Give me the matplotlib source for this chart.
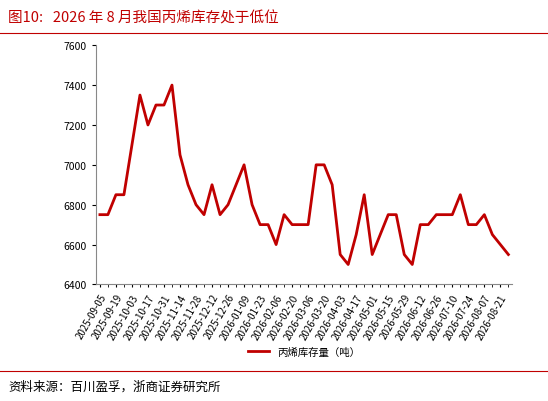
import matplotlib
matplotlib.use("Agg")
import matplotlib.pyplot as plt
import pandas as pd

plt.rcParams['font.family'] = ['Noto Sans CJK SC', 'DejaVu Sans']

dates = pd.date_range("2025-09-05", periods=52, freq="7D").strftime("%Y-%m-%d").tolist()
values = [6750,6750,6850,6850,7100,7350,7200,7300,7300,7400,7050,6900,6800,6750,6900,6750,
          6800,6900,7000,6800,6700,6700,6600,6750,6700,6700,6700,7000,7000,6900,6550,6500,
          6650,6850,6550,6650,6750,6750,6550,6500,6700,6700,6750,6750,6750,6850,6700,6700,
          6750,6650,6600,6550]

fig = plt.figure(figsize=(5.48, 4.02), dpi=100)
ax = fig.add_axes([0.175, 0.29, 0.76, 0.595])
x = list(range(len(values)))
ax.plot(x, values, color='#C00000', lw=2, label='丙烯库存量（吨）')
ax.set_ylim(6400, 7600)
ax.set_yticks(range(6400, 7601, 200))
ax.set_xlim(-0.5, len(values) - 0.5)
ax.set_xticks(x, minor=True)
ax.set_xticks(x[::2])
ax.set_xticklabels(dates[::2], rotation=60, ha='right', rotation_mode='anchor', fontsize=7)
ax.tick_params(axis='y', labelsize=7.5, length=3, direction='out')
ax.tick_params(axis='x', which='both', length=2)
for s in ['top', 'right']:
    ax.spines[s].set_visible(False)
for s in ['left', 'bottom']:
    ax.spines[s].set_color('#888888')
leg = ax.legend(loc='center', bbox_to_anchor=(0.5, -0.28), frameon=False, fontsize=7.5)

fig.text(0.015, 0.955, '图10:   2026 年 8 月我国丙烯库存处于低位', fontsize=10.5, color='#C00000', va='center')
fig.add_artist(plt.Line2D([0.0, 1.0], [0.915, 0.915], color='#C00000', lw=0.8))
fig.add_artist(plt.Line2D([0.0, 1.0], [0.075, 0.075], color='#C00000', lw=0.8))
fig.text(0.015, 0.037, '资料来源：百川盈孚，浙商证券研究所', fontsize=9, va='center')
fig.savefig('out.png', dpi=100)
